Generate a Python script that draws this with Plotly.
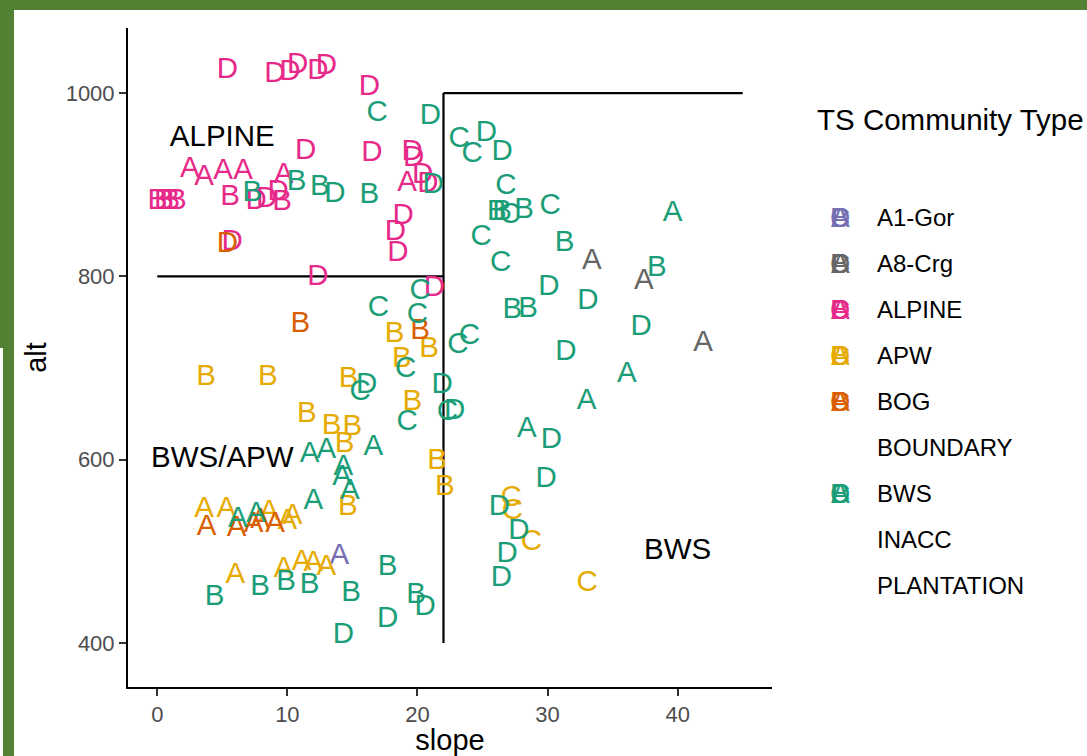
import plotly.graph_objects as go

# ---------------- data ----------------
groups = ["A1-Gor", "A8-Crg", "ALPINE", "APW", "BOG", "BOUNDARY", "BWS", "INACC", "PLANTATION"]
group_colors = {
    "A1-Gor": "#7570B3", "A8-Crg": "#666666", "ALPINE": "#E7298A", "APW": "#E6AB02",
    "BOG": "#D95F02", "BOUNDARY": None, "BWS": "#1B9E77",
    "INACC": None, "PLANTATION": None,
}
key_letters = ["A", "B", "C", "D"]

a1gor_slope = [14.0]
a1gor_alt = [494]
a1gor_lab = ["A"]

a8crg_slope = [33.4, 37.4, 41.95]
a8crg_alt = [816, 794, 727]
a8crg_lab = ["A", "A", "A"]

alpine_slope = [5.4, 9.05, 10.2, 10.8, 12.35, 13.0, 16.3, 11.4, 16.5, 19.6, 19.7, 20.4, 19.2, 20.8,
                2.5, 3.6, 5.06, 6.6, 9.7, 0.0, 0.5, 1.0, 1.5, 5.6, 7.6, 8.4, 9.3, 9.6,
                18.9, 18.3, 18.5, 5.75, 12.35, 21.3]
alpine_alt = [1025, 1020, 1022, 1030, 1023, 1029, 1006, 936, 934, 935, 929, 910, 901, 900,
              916, 908, 914, 914, 910, 882, 882, 882, 882, 886, 882, 884, 891, 881,
              865, 848, 825, 837, 799, 787]
alpine_lab = ["D", "D", "D", "D", "D", "D", "D", "D", "D", "D", "D", "D", "A", "D",
              "A", "A", "A", "A", "A", "B", "B", "B", "B", "B", "D", "D", "D", "B",
              "D", "D", "D", "D", "D", "D"]

apw_slope = [18.25, 20.9, 18.8, 3.76, 8.5, 14.7, 19.6, 11.5, 13.4, 15.0, 14.4, 21.5, 22.1, 14.65,
             3.6, 5.3, 8.6, 10.4, 10.0, 6.0, 9.7, 11.1, 12.0, 13.0,
             27.2, 27.3, 28.75, 33.05]
apw_alt = [736, 720, 709, 689, 689, 687, 662, 649, 636, 635, 616, 598, 570, 548,
           545, 545, 542, 538, 532, 474, 480, 488, 487, 482,
           558, 543, 510, 465]
apw_lab = ["B", "B", "B", "B", "B", "B", "B", "B", "B", "B", "B", "B", "B", "B",
           "A", "A", "A", "A", "A", "A", "A", "A", "A", "A",
           "C", "C", "C", "C"]

bog_slope = [5.4, 11.0, 20.2, 3.8, 6.1, 7.4, 9.05, 7.9]
bog_alt = [835, 747, 740, 526, 525, 529, 529, 534]
bog_lab = ["D", "B", "B", "A", "A", "A", "A", "A"]

bws_slope = [16.9, 21.0, 7.3, 10.7, 12.5, 13.65, 16.3, 21.2,
             23.2, 25.3, 24.2, 26.5, 26.8, 26.1, 26.5, 27.1, 28.2, 30.2, 39.6, 24.9, 31.3, 26.4, 38.4,
             30.1, 33.1, 27.3, 28.5, 37.2,
             20.2, 20.0, 17.0, 19.1, 16.1, 15.6, 21.9, 22.3, 22.85, 19.2,
             16.6, 11.7, 13.0, 14.3, 14.2, 14.8, 12.0, 6.2, 7.6,
             23.1, 24.0, 31.4, 36.1, 33.0, 28.4, 30.3,
             29.9, 26.3, 27.8, 26.9, 26.45,
             4.4, 7.9, 9.9, 11.7, 14.9, 17.7, 19.9, 20.6, 17.7, 14.3]
bws_alt = [978, 974, 890, 902, 897, 889, 888, 899,
           949, 956, 933, 935, 898, 870, 870, 866, 872, 876, 869, 842, 836, 814, 808,
           788, 772, 763, 764, 744,
           783, 757, 765, 698, 681, 673, 681, 651, 652, 640,
           613, 605, 610, 591, 580, 565, 554, 535, 540,
           724, 734, 717, 693, 663, 633, 621,
           578, 548, 522, 496, 470,
           449, 460, 466, 463, 454, 482, 452, 439, 425, 408]
bws_lab = ["C", "D", "B", "B", "B", "D", "B", "D",
           "C", "D", "C", "D", "C", "B", "B", "C", "B", "C", "A", "C", "B", "C", "B",
           "D", "D", "B", "B", "D",
           "C", "C", "C", "C", "D", "C", "D", "C", "D", "C",
           "A", "A", "A", "A", "A", "A", "A", "A", "A",
           "C", "C", "D", "A", "A", "A", "D",
           "D", "D", "D", "D", "D",
           "B", "B", "B", "B", "B", "B", "B", "D", "D", "D"]

group_data = {
    "A1-Gor": (a1gor_slope, a1gor_alt, a1gor_lab),
    "A8-Crg": (a8crg_slope, a8crg_alt, a8crg_lab),
    "ALPINE": (alpine_slope, alpine_alt, alpine_lab),
    "APW": (apw_slope, apw_alt, apw_lab),
    "BOG": (bog_slope, bog_alt, bog_lab),
    "BOUNDARY": ([], [], []),
    "BWS": (bws_slope, bws_alt, bws_lab),
    "INACC": ([], [], []),
    "PLANTATION": ([], [], []),
}

# region boundaries
seg_x = [[0, 22], [22, 22], [22, 45]]
seg_y = [[800, 800], [400, 1000], [1000, 1000]]

# region labels
region_text = ["ALPINE", "BWS/APW", "BWS"]
region_x = [5, 5, 40]
region_y = [950, 600, 500]

x_ticks = [0, 10, 20, 30, 40]
y_ticks = [400, 600, 800, 1000]

# ---------------- figure ----------------
FONT = "Liberation Sans, Arial, sans-serif"
BIG = 29.5     # 11 pt text
SMALL = 24     # 8.8 pt legend text
W, H = 1087, 756
ML, MR, MT, MB = 128, 315, 28, 69
PW, PH = W - ML - MR, H - MT - MB


def px_x(p):
    return (p - ML) / PW


def px_y(p):
    return (H - MB - p) / PH


fig = go.Figure()

for sx, sy in zip(seg_x, seg_y):
    fig.add_trace(go.Scatter(x=sx, y=sy, mode="lines", line=dict(color="black", width=2.2),
                             showlegend=False, hoverinfo="skip"))

for g in groups:
    xs, ys, labs = group_data[g]
    if not xs:
        continue
    fig.add_trace(go.Scatter(
        x=xs, y=ys, text=labs, mode="text", name=g,
        textposition="middle center",
        textfont=dict(family=FONT, size=BIG, color=group_colors[g]),
        hoverinfo="x+y+text+name", showlegend=False,
    ))

fig.add_trace(go.Scatter(
    x=region_x, y=region_y, text=region_text, mode="text",
    textposition="middle center",
    textfont=dict(family=FONT, size=BIG, color="black"),
    showlegend=False, hoverinfo="skip"))

green = "#548235"
shapes = [
    dict(type="rect", xref="paper", yref="paper", x0=px_x(0), x1=px_x(W), y0=px_y(10), y1=px_y(0),
         fillcolor=green, line=dict(width=0), layer="above"),
    dict(type="rect", xref="paper", yref="paper", x0=px_x(0), x1=px_x(14), y0=px_y(348), y1=px_y(0),
         fillcolor=green, line=dict(width=0), layer="above"),
    dict(type="rect", xref="paper", yref="paper", x0=px_x(3), x1=px_x(14), y0=px_y(H), y1=px_y(348),
         fillcolor=green, line=dict(width=0), layer="above"),
]

annotations = [
    dict(text="TS Community Type", xref="paper", yref="paper", x=px_x(815), y=px_y(120),
         xanchor="left", yanchor="middle", showarrow=False,
         font=dict(family=FONT, size=BIG, color="black")),
]

# manual legend (ggplot-style: overlapped letters as key, label to the right)
LEG_Y0, LEG_DY = 217, 46
for i, g in enumerate(groups):
    yy = px_y(LEG_Y0 + i * LEG_DY)
    col = group_colors[g]
    if col is not None:
        for L in key_letters:
            annotations.append(dict(text=L, xref="paper", yref="paper", x=px_x(840), y=yy,
                                    xanchor="center", yanchor="middle", showarrow=False,
                                    font=dict(family=FONT, size=28, color=col)))
    annotations.append(dict(text=g, xref="paper", yref="paper", x=px_x(875), y=yy,
                            xanchor="left", yanchor="middle", showarrow=False,
                            font=dict(family=FONT, size=SMALL, color="black")))

axis_common = dict(
    showgrid=False, zeroline=False, showline=True, linecolor="black", linewidth=2,
    ticks="outside", ticklen=7, tickwidth=2, tickcolor="#333333",
    tickfont=dict(family=FONT, size=22, color="#4D4D4D"),
)

fig.update_layout(
    width=W, height=H,
    margin=dict(l=ML, r=MR, t=MT, b=MB, autoexpand=False),
    paper_bgcolor="white", plot_bgcolor="white",
    xaxis=dict(range=[-2.25, 47.25], tickvals=x_ticks, title=dict(text="slope", standoff=6,
               font=dict(family=FONT, size=29, color="black")), **axis_common),
    yaxis=dict(range=[352, 1071], tickvals=y_ticks, title=dict(text="alt", standoff=10,
               font=dict(family=FONT, size=29, color="black")), **axis_common),
    shapes=shapes, annotations=annotations,
    showlegend=False,
)

fig.write_html("out.html", config={"displayModeBar": False},
               post_script="document.body.style.margin='0';document.body.style.overflow='hidden';")
